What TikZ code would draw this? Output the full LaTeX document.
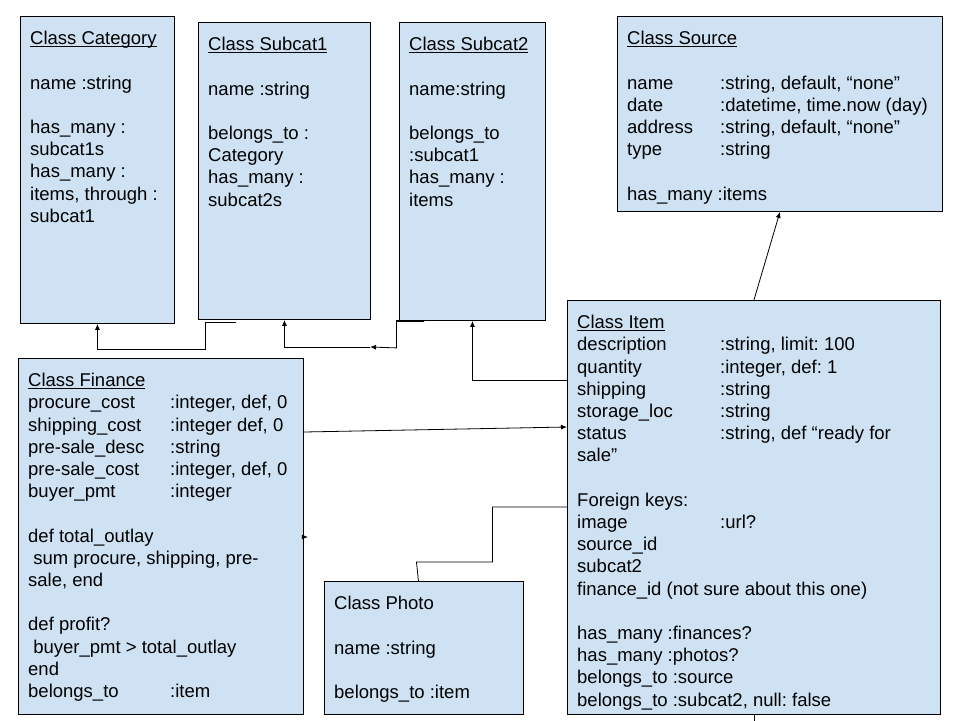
\documentclass[tikz,border=0pt]{standalone}
\usepackage{fontspec}
\setmainfont{Liberation Sans}
\usetikzlibrary{arrows.meta}
\definecolor{boxblue}{RGB}{207,226,243}
\newcommand{\clsname}[1]{\underline{\smash{#1}}}
\newcommand{\fcol}[2]{\makebox[#1][l]{#2}}
\newcommand{\firstline}{\rule{0pt}{14pt}}

\begin{document}
\begin{tikzpicture}[x=1pt, y=-1pt,
    cls/.style={draw=black, fill=boxblue, line width=0.9pt, anchor=north west, inner sep=0pt},
    attrs/.style={anchor=north west, align=left, inner sep=0pt,
      font=\fontsize{18.5}{22.2}\selectfont\frenchspacing},
    arr/.style={-{Latex[length=6pt,width=5pt]}, line width=0.8pt}]
    \pgfmathsetmacro{\tx}{10}
    \pgfmathsetmacro{\ty}{14.5}
    \useasboundingbox (0,0) rectangle (960,720);
    \fill[white] (0,0) rectangle (960,720);

    % class boxes
    \node[cls, minimum width=154pt, minimum height=307pt] (cat) at (20,16) {};
    \node[cls, minimum width=172pt, minimum height=297pt] (sub1) at (198,22) {};
    \node[cls, minimum width=146pt, minimum height=298pt] (sub2) at (399,22) {};
    \node[cls, minimum width=325pt, minimum height=195pt] (src) at (617,16) {};
    \node[cls, minimum width=373pt, minimum height=414pt] (item) at (567,300) {};
    \node[cls, minimum width=285pt, minimum height=356pt] (fin) at (18,358) {};
    \node[cls, minimum width=199pt, minimum height=133pt] (photo) at (324,581) {};

    % class texts
    \node[attrs] (catTxt) at ([shift={(\tx,\ty)}]cat.north west)
      {\firstline\clsname{Class Category}\\ ~\\ name :string\\ ~\\ has\_many :\\ subcat1s\\
       has\_many :\\ items, through :\\ subcat1};
    \node[attrs] (sub1Txt) at ([shift={(\tx,\ty)}]sub1.north west)
      {\firstline\clsname{Class Subcat1}\\ ~\\ name :string\\ ~\\ belongs\_to :\\ Category\\
       has\_many :\\ subcat2s};
    \node[attrs] (sub2Txt) at ([shift={(\tx,\ty)}]sub2.north west)
      {\firstline\clsname{Class Subcat2}\\ ~\\ name:string\\ ~\\ belongs\_to\\ :subcat1\\
       has\_many :\\ items};
    \node[attrs] (srcTxt) at ([shift={(\tx,\ty)}]src.north west)
      {\firstline\clsname{Class Source}\\ ~\\
       \fcol{93pt}{name}:string, default, “none”\\
       \fcol{93pt}{date}:datetime, time.now (day)\\
       \fcol{93pt}{address}:string, default, “none”\\
       \fcol{93pt}{type}:string\\ ~\\
       has\_many :items};
    \node[attrs] (itemTxt) at ([shift={(\tx,\ty)}]item.north west)
      {\firstline\clsname{Class Item}\\
       \fcol{143pt}{description}:string, limit: 100\\
       \fcol{143pt}{quantity}:integer, def: 1\\
       \fcol{143pt}{shipping}:string\\
       \fcol{143pt}{storage\_loc}:string\\
       \fcol{143pt}{status}:string, def “ready for\\
       sale”\\ ~\\
       Foreign keys:\\
       \fcol{143pt}{image}:url?\\
       source\_id\\
       subcat2\\
       finance\_id (not sure about this one)\\ ~\\
       has\_many :finances?\\
       has\_many :photos?\\
       belongs\_to :source\\
       belongs\_to :subcat2, null: false};
    \node[attrs] (finTxt) at ([shift={(\tx,\ty)}]fin.north west)
      {\firstline\clsname{Class Finance}\\
       \fcol{142pt}{procure\_cost}:integer, def, 0\\
       \fcol{142pt}{shipping\_cost}:integer def, 0\\
       \fcol{142pt}{pre-sale\_desc}:string\\
       \fcol{142pt}{pre-sale\_cost}:integer, def, 0\\
       \fcol{142pt}{buyer\_pmt}:integer\\ ~\\
       def total\_outlay\\
       \ sum procure, shipping, pre-\\
       sale, end\\ ~\\
       def profit?\\
       \ buyer\_pmt > total\_outlay\\
       end\\
       \fcol{142pt}{belongs\_to}:item};
    \node[attrs] (photoTxt) at ([shift={(\tx,\ty)}]photo.north west)
      {\firstline Class Photo\\ ~\\ name :string\\ ~\\ belongs\_to :item};

    % connectors
    \coordinate (s1tail) at ([shift={(-48,2)}]sub1.south);
    \draw[arr] (s1tail) -- ++(-31,0) -- ++(0,27) -| (cat.south);
    \coordinate (s2tail) at ([xshift=-48pt]sub2.south);
    \coordinate (s2mid) at (370,347);
    \draw[line width=1.6pt] (s2tail) -- ++(-28,0);
    \draw[arr] (s2tail) -- ++(-28,0) -- ++(0,27) -- (s2mid);
    \draw[arr] (s2mid) -| (sub1.south);
    \draw[arr] ([yshift=-80pt]item.north west) -| (sub2.south);
    \draw[arr] ([yshift=-74pt]fin.north east) -- ([yshift=-127pt]item.north west);
    \draw[arr] ([yshift=-179pt]fin.north east) -- ++(4,0);
    \draw[line width=0.8pt] ([xshift=-5.5pt]photo.north) -- ++(-2,-19) -- ++(76,0)
      |- ([yshift=-207pt]item.north west);
    \draw[arr] (item.north) -- (src.south);
    \draw[line width=0.8pt] (item.south) -- ++(0,6);
\end{tikzpicture}
\end{document}
